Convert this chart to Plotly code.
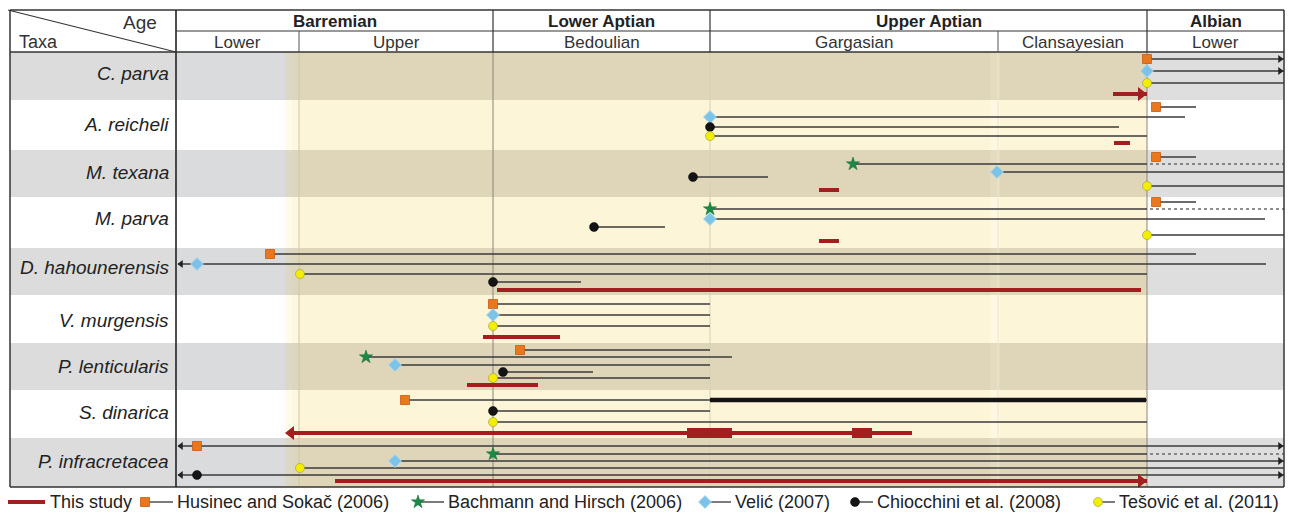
import plotly.graph_objects as go

# ---------------- data ----------------
taxa = ["C. parva", "A. reicheli", "M. texana", "M. parva", "D. hahounerensis",
        "V. murgensis", "P. lenticularis", "S. dinarica", "P. infracretacea"]

# age scale (relative positions along the chart's time axis)
stages = ["Barremian", "Lower Aptian", "Upper Aptian", "Albian"]
stage_bounds = [176, 493, 710, 1147, 1284]
substages = ["Lower", "Upper", "Bedoulian", "Gargasian", "Clansayesian", "Lower"]
substage_bounds = [176, 299, 493, 710, 998, 1147, 1284]

sources = ["This study", "Husinec and Sokač (2006)", "Bachmann and Hirsch (2006)",
           "Velić (2007)", "Chiocchini et al. (2008)", "Tešović et al. (2011)"]

# one entry per reported stratigraphic range
rng_taxon = [0, 0, 0, 0,
             1, 1, 1, 1, 1,
             2, 2, 2, 2, 2, 2,
             3, 3, 3, 3, 3, 3,
             4, 4, 4, 4, 4,
             5, 5, 5, 5,
             6, 6, 6, 6, 6, 6,
             7, 7, 7, 7,
             8, 8, 8, 8, 8, 8]
rng_source = [1, 3, 5, 0,
              1, 3, 4, 5, 0,
              1, 2, 3, 4, 5, 0,
              1, 2, 3, 4, 5, 0,
              1, 3, 5, 4, 0,
              1, 3, 5, 0,
              1, 2, 3, 4, 5, 0,
              1, 4, 5, 0,
              1, 2, 3, 5, 4, 0]
rng_first = [1147, 1147, 1147, 1113,
             1156, 710, 710, 710, 1114,
             1156, 853, 997, 693, 1147, 819,
             1156, 710, 710, 594, 1147, 819,
             270, 197, 300, 493, 497,
             493, 493, 493, 483,
             520, 366, 395, 503, 493, 467,
             405, 493, 493, 292,
             197, 493, 395, 300, 197, 335]
rng_last = [1284, 1284, 1284, 1147,
            1196, 1185, 1119, 1147, 1130,
            1196, 1147, 1284, 768, 1284, 839,
            1196, 1147, 1265, 665, 1284, 839,
            1196, 1266, 1147, 581, 1141,
            710, 710, 710, 560,
            710, 732, 710, 593, 710, 538,
            1147, 710, 1147, 912,
            1284, 1147, 1284, 1284, 1284, 1147]
# range continues beyond the lower / upper limit of the scale (arrow)
rng_older = [0, 0, 0, 0,
             0, 0, 0, 0, 0,
             0, 0, 0, 0, 0, 0,
             0, 0, 0, 0, 0, 0,
             0, 1, 0, 0, 0,
             0, 0, 0, 0,
             0, 0, 0, 0, 0, 0,
             0, 0, 0, 1,
             1, 0, 0, 0, 1, 0]
rng_younger = [1, 1, 0, 1,
               0, 0, 0, 0, 0,
               0, 0, 0, 0, 0, 0,
               0, 0, 0, 0, 0, 0,
               0, 0, 0, 0, 0,
               0, 0, 0, 0,
               0, 0, 0, 0, 0, 0,
               0, 0, 0, 0,
               1, 0, 1, 0, 1, 1]
# uncertain (dotted) extension of a range
rng_uncertain_to = [None, None, None, None,
                    None, None, None, None, None,
                    None, 1284, None, None, None, None,
                    None, 1284, None, None, None, None,
                    None, None, None, None, None,
                    None, None, None, None,
                    None, None, None, None, None, None,
                    None, None, None, None,
                    None, 1284, None, None, None, None]
# well-documented part of the Husinec & Sokač S. dinarica range (bold)
bold_taxon = [7]
bold_from = [710]
bold_to = [1146]
# acme intervals of this study (S. dinarica)
acme_taxon = [7, 7]
acme_from = [687, 852]
acme_to = [732, 872]

# ---------------- layout / styling ----------------
W, H = 1291, 514
X0, XL, X1 = 10, 176, 1284
Y0, YH1, YH2 = 10, 31, 52
row_tops = [52, 100, 150, 197, 248, 295, 343, 390, 438, 487]
label_y = [73, 124, 172, 218, 267, 320, 366, 412, 461]
# vertical lane of every range inside its taxon row
lane_y = [59, 71, 83, 94,
          107, 117, 127, 136, 143,
          157, 164, 172, 177, 186, 190,
          202, 209, 219, 227, 235, 241,
          254, 264, 274, 282, 290,
          304, 315, 326, 337,
          350, 357, 365, 372, 378, 385,
          400, 411, 422, 433,
          446, 454, 461, 468, 475, 481]
bold_y = [400]
acme_y = [433, 433]

RED = "#a21f1f"
LINE = "#3a3a3a"
src_marker = {
    1: dict(symbol="square", size=9, color="#e8771d", line=dict(color="#c85a10", width=0.8)),
    2: dict(symbol="star", size=10, color="#1b8a47", line=dict(color="#136b35", width=0.5)),
    3: dict(symbol="diamond", size=10, color="#7dc3e8", line=dict(color="#a9d8f0", width=0.8)),
    4: dict(symbol="circle", size=9, color="#141414", line=dict(color="#000", width=0.5)),
    5: dict(symbol="circle", size=9, color="#f3ee00", line=dict(color="#9a9a50", width=0.6)),
}

fig = go.Figure()
shapes = []
annots = []

def rect(x0, y0, x1, y1, color, layer="below"):
    shapes.append(dict(type="rect", xref="x", yref="y", x0=x0, y0=y0, x1=x1, y1=y1,
                       fillcolor=color, line=dict(width=0), layer=layer))

def seg(x0, y0, x1, y1, color, width, layer="above", dash=None):
    d = dict(type="line", xref="x", yref="y", x0=x0, y0=y0, x1=x1, y1=y1,
             line=dict(color=color, width=width), layer=layer)
    if dash:
        d["line"]["dash"] = dash
    shapes.append(d)

YEL_L, YEL_R = 285, 1147
for i in range(len(taxa)):
    t, b = row_tops[i], row_tops[i + 1]
    if i % 2 == 0:
        rect(X0, t, XL, b, "#dcdcdc")
        rect(XL, t, YEL_L, b, "#d9dbdd")
        rect(YEL_L, t, 292, b, "#dcd8c8")
        rect(292, t, 299, b, "#ddd6bd")
        rect(299, t, YEL_R, b, "#dfd6b9")
        rect(990, t, 1000, b, "#e3dbc0")
        rect(YEL_R, t, X1, b, "#dedede")
    else:
        rect(X0, t, XL, b, "#ffffff")
        rect(XL, t, YEL_L, b, "#ffffff")
        rect(YEL_L, t, 292, b, "#fefbea")
        rect(292, t, 299, b, "#fdf7df")
        rect(299, t, YEL_R, b, "#fdf5d8")
        rect(990, t, 1000, b, "#fef8e2")
        rect(YEL_R, t, X1, b, "#ffffff")

# faint boundary lines through the range area
seg(299, YH2, 299, row_tops[-1], "#cfc6a8", 1, layer="below")
seg(493, YH2, 493, row_tops[-1], "#8a8578", 1, layer="below")
seg(710, YH2, 710, row_tops[-1], "#d8cfb0", 1, layer="below")
seg(998, YH2, 998, row_tops[-1], "#eee6cc", 1, layer="below")
seg(1147, YH2, 1147, row_tops[-1], "#8a8578", 1, layer="below")

# ---- range lines ----
def add_lines(xs, ys, color, width, dash="solid"):
    fig.add_trace(go.Scatter(x=xs, y=ys, mode="lines", line=dict(color=color, width=width, dash=dash),
                             hoverinfo="skip", showlegend=False))

lx, ly, rx, ry, dx, dy = [], [], [], [], [], []
arr_r_x, arr_r_y, arr_l_x, arr_l_y = [], [], [], []
red_r_x, red_r_y, red_l_x, red_l_y = [], [], [], []
for k in range(len(rng_first)):
    s = rng_source[k]
    y = lane_y[k]
    x0, x1 = rng_first[k], rng_last[k]
    if rng_older[k] and s != 0:
        x0e = XL + 2
    else:
        x0e = x0
    if s == 0:
        rx += [x0, x1, None]
        ry += [y, y, None]
        if rng_younger[k]:
            red_r_x.append(x1 - 6); red_r_y.append(y)
        if rng_older[k]:
            red_l_x.append(x0 - 1); red_l_y.append(y)
    else:
        lx += [x0e, x1, None]
        ly += [y, y, None]
        if rng_older[k]:
            arr_l_x.append(XL + 5); arr_l_y.append(y)
        if rng_younger[k]:
            arr_r_x.append(X1 - 4); arr_r_y.append(y)
    if rng_uncertain_to[k] is not None:
        dx += [x1 + 3, rng_uncertain_to[k], None]
        dy += [y, y, None]

add_lines(lx, ly, LINE, 1.4)
add_lines(dx, dy, "#6a6a6a", 1.3, "dot")
bx, by = [], []
for k in range(len(bold_taxon)):
    bx += [bold_from[k], bold_to[k], None]
    by += [bold_y[k], bold_y[k], None]
add_lines(bx, by, "#141414", 4.5)
add_lines(rx, ry, RED, 4)
ax_, ay_ = [], []
for k in range(len(acme_taxon)):
    ax_ += [acme_from[k], acme_to[k], None]
    ay_ += [acme_y[k], acme_y[k], None]
add_lines(ax_, ay_, RED, 10)

fig.add_trace(go.Scatter(x=arr_r_x, y=arr_r_y, mode="markers", hoverinfo="skip", showlegend=False,
                         marker=dict(symbol="triangle-right", size=7, color="#222")))
fig.add_trace(go.Scatter(x=arr_l_x, y=arr_l_y, mode="markers", hoverinfo="skip", showlegend=False,
                         marker=dict(symbol="triangle-left", size=7, color="#222")))
fig.add_trace(go.Scatter(x=red_r_x, y=red_r_y, mode="markers", hoverinfo="skip", showlegend=False,
                         marker=dict(symbol="triangle-right", size=12, color=RED)))
fig.add_trace(go.Scatter(x=red_l_x, y=red_l_y, mode="markers", hoverinfo="skip", showlegend=False,
                         marker=dict(symbol="triangle-left", size=12, color=RED)))

# first-occurrence markers by source
for s in range(1, 6):
    xs = [rng_first[k] for k in range(len(rng_first)) if rng_source[k] == s]
    ys = [lane_y[k] for k in range(len(rng_first)) if rng_source[k] == s]
    fig.add_trace(go.Scatter(x=xs, y=ys, mode="markers", marker=src_marker[s],
                             hoverinfo="skip", showlegend=False))

# ---- table frame & header ----
seg(X0, Y0, X1, Y0, "#333", 1.5)
seg(X0, row_tops[-1], X1, row_tops[-1], "#333", 1.5)
seg(X0, Y0, X0, row_tops[-1], "#333", 1.5)
seg(X1, Y0, X1, row_tops[-1], "#333", 1.5)
seg(XL, Y0, XL, row_tops[-1], "#222", 1.6)
seg(XL, YH1, X1, YH1, "#333", 1.2)
seg(X0, YH2, X1, YH2, "#333", 1.5)
seg(X0 - 2, Y0, XL, YH2, "#333", 1.2)
for b in stage_bounds[1:-1]:
    seg(b, Y0, b, YH2, "#333", 1.2)
for b in [299, 998]:
    seg(b, YH1, b, YH2, "#555", 1)

FONT = "Liberation Sans, Arial, sans-serif"
for i, name in enumerate(stages):
    annots.append(dict(x=(stage_bounds[i] + stage_bounds[i + 1]) / 2, y=21,
                       text="<b>%s</b>" % name, showarrow=False,
                       font=dict(family=FONT, size=17, color="#222"), xanchor="center", yanchor="middle"))
for i, name in enumerate(substages):
    annots.append(dict(x=(substage_bounds[i] + substage_bounds[i + 1]) / 2, y=42.5,
                       text=name, showarrow=False,
                       font=dict(family=FONT, size=17, color="#333"), xanchor="center", yanchor="middle"))
annots.append(dict(x=159, y=22, text="Age", showarrow=False, xanchor="right", yanchor="middle",
                   font=dict(family=FONT, size=19, color="#333")))
annots.append(dict(x=17, y=42, text="Taxa", showarrow=False, xanchor="left", yanchor="middle",
                   font=dict(family=FONT, size=18, color="#333")))
for i, name in enumerate(taxa):
    annots.append(dict(x=171, y=label_y[i], text="<i>%s</i>" % name, showarrow=False,
                       xanchor="right", yanchor="middle",
                       font=dict(family=FONT, size=19, color="#222")))

# ---- legend ----
LY = 502
leg_x = [8, 145, 418, 705, 855, 1098]
leg_text_x = [48, 175, 446, 733, 875, 1117]
for s in range(6):
    if s == 0:
        fig.add_trace(go.Scatter(x=[leg_x[0], 45], y=[LY, LY], mode="lines",
                                 line=dict(color=RED, width=4), hoverinfo="skip", showlegend=False))
    else:
        fig.add_trace(go.Scatter(x=[leg_x[s], leg_text_x[s] - 2], y=[LY, LY], mode="lines",
                                 line=dict(color="#333", width=1.3), hoverinfo="skip", showlegend=False))
        fig.add_trace(go.Scatter(x=[leg_x[s]], y=[LY], mode="markers", marker=src_marker[s],
                                 hoverinfo="skip", showlegend=False))
    annots.append(dict(x=leg_text_x[s], y=LY, text=sources[s], showarrow=False,
                       xanchor="left", yanchor="middle",
                       font=dict(family=FONT, size=18, color="#222")))

fig.update_layout(
    width=W, height=H, margin=dict(l=0, r=0, t=0, b=0),
    paper_bgcolor="white", plot_bgcolor="white",
    xaxis=dict(range=[0, W], visible=False, fixedrange=True),
    yaxis=dict(range=[H, 0], visible=False, fixedrange=True),
    shapes=shapes, annotations=annots, showlegend=False,
)
fig.write_html("out.html", config={"displayModeBar": False},
               post_script="document.body.style.margin='0';")
